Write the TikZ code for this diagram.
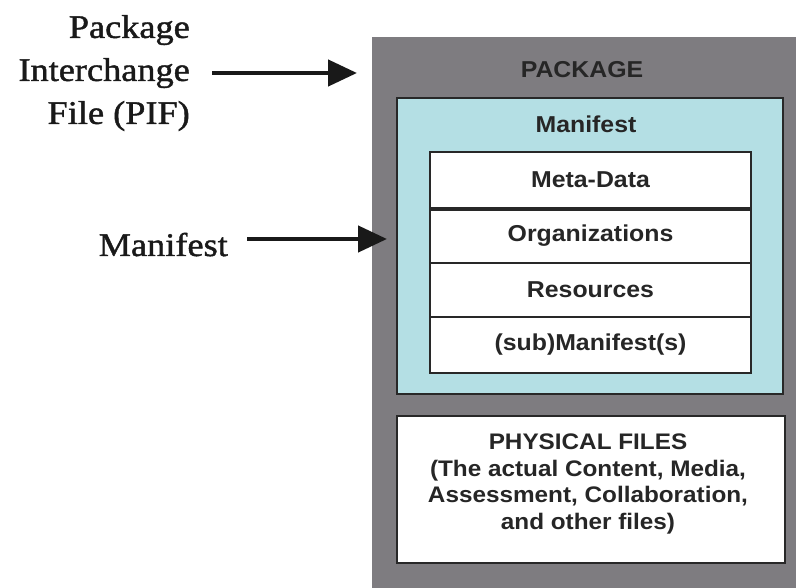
\documentclass[tikz,border=0pt]{standalone}
\usepackage{fontspec}
\usetikzlibrary{arrows.meta}
\newfontfamily\lserif{Liberation Serif}[FakeStretch=1.1,FakeBold=1.3]
\newfontfamily\lsans{Liberation Sans}[FakeStretch=1.08]
\definecolor{pkggray}{RGB}{126,124,128}
\definecolor{mancyan}{RGB}{180,223,228}
\definecolor{bord}{RGB}{40,40,40}
\tikzset{
  box/.style={draw=bord, line width=2pt, inner sep=0pt, anchor=center},
  row/.style={box, fill=white, minimum width=321pt},
  sanslab/.style={font=\lsans\bfseries\fontsize{23}{27}\selectfont, text=black!85, inner sep=0pt},
  serlab/.style={font=\lserif\fontsize{33}{43}\selectfont, text=black!90, align=right, inner sep=0pt},
  arr/.style={line width=4.5pt, -{Triangle[length=29pt,width=26pt]}, black!90}
}
\begin{document}
\begin{tikzpicture}[x=1pt,y=-1pt]
\useasboundingbox (0,0) rectangle (796,588);
% package
\node[fill=pkggray, inner sep=0pt, minimum width=430pt, minimum height=560pt, anchor=north west] (pkg) at (372,37) {};
\node[sanslab] (pkglab) at (582,70) {PACKAGE};
% manifest box
\node[box, fill=mancyan, minimum width=386pt, minimum height=296pt] (man) at (590,246) {};
\node[sanslab] (manlab) at (586,124) {Manifest};
% rows
\node[row, minimum height=56pt] (meta) at (590.5,180) {};
\node[row, minimum height=55pt] (org) at (590.5,235.5) {};
\node[row, minimum height=54pt] (res) at (590.5,290) {};
\node[row, minimum height=56pt] (sub) at (590.5,345) {};
\draw[bord, line width=3.5pt] (meta.south west) -- (meta.south east);
\node[sanslab] (metal) at (meta.center) {Meta-Data};
\node[sanslab] (orgl) at (org.center) {Organizations};
\node[sanslab] (resl) at (res.center) {Resources};
\node[sanslab] (subl) at (sub.center) {(sub)Manifest(s)};
% physical files
\node[box, fill=white, minimum width=388pt, minimum height=147pt] (phys) at (591,489.5) {};
\node[sanslab, font=\lsans\bfseries\fontsize{22.5}{26.5}\selectfont, align=center] (physl) at (588,484)
  {PHYSICAL FILES\\(The actual Content, Media,\\Assessment, Collaboration,\\and other files)};
% left labels
\node[serlab, anchor=east] (pif) at (190,73) {Package\\Interchange\\File (PIF)};
\node[serlab, anchor=base east] (mlab) at (228,256) {Manifest};
\coordinate (a1s) at ([xshift=22pt]pif.east);
\coordinate (a2s) at (247,239);
\draw[arr, shorten >=15pt] (a1s) -- (a1s -| pkg.west);
\draw[arr, shorten >=9pt] (a2s) -- (a2s -| man.west);
\end{tikzpicture}
\end{document}
